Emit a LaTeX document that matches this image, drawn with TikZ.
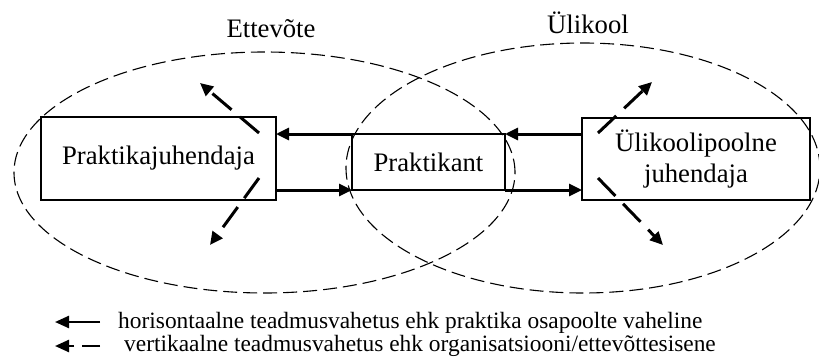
\documentclass[tikz,border=0pt]{standalone}
\usepackage{fontspec}
\setmainfont{Liberation Serif}
\usetikzlibrary{arrows.meta,shapes.geometric,calc}
\begin{document}
\begin{tikzpicture}[x=1pt,y=-1pt,
  region/.style={draw,dash pattern=on 14pt off 6pt,line width=1.1pt,ellipse,inner sep=0pt,outer sep=0pt},
  box/.style={draw,line width=1.2pt,inner sep=0pt,outer sep=0pt,font=\fontsize{26.7}{31}\selectfont},
  flow/.style={line width=3pt,-{Triangle[length=13pt,width=12pt]}},
  vflow/.style={flow,dash pattern=on 25pt off 11pt},
  keyflow/.style={line width=2.4pt,-{Triangle[length=14pt,width=12pt]}},
  caption/.style={font=\fontsize{26.7}{31}\selectfont,inner sep=0pt},
  legend/.style={font=\fontsize{23.4}{26}\selectfont,anchor=base west,inner sep=0pt}]
\useasboundingbox (0,0) rectangle (819,359);

% the two organisations
\node[region,minimum width=501pt,minimum height=241pt] (ent) at (264.5,172.5) {};
\node[region,minimum width=474pt,minimum height=250pt] (uni) at (583,168) {};
\node[caption] (entlbl) at (271,29) {Ettevõte};
\node[caption] (unilbl) at (588,23) {Ülikool};

% the three parties
\node[box,minimum width=235pt,minimum height=83pt] (pj) at (158.5,158.5) {Praktikajuhendaja};
\node[box,minimum width=153pt,minimum height=56pt] (pk) at (428.5,162) {Praktikant};
\node[box,minimum width=228pt,minimum height=82pt,align=center] (ul) at (696,159) {Ülikoolipoolne\\juhendaja};

% horizontal exchange
\draw[flow] (pk.north west) -- (pk.north west -| pj.east);
\draw[flow] (pk.south west -| pj.east) -- (pk.south west);
\draw[flow] (pk.north east -| ul.west) -- (pk.north east);
\draw[flow] (pk.south east) -- (pk.south east -| ul.west);

% vertical exchange inside each organisation
\coordinate (pjup) at ($(pj.north east)+(-17,16)$);
\coordinate (pjdn) at ($(pj.south east)+(-17,-22)$);
\coordinate (ulup) at ($(ul.north west)+(16,15)$);
\coordinate (uldn) at ($(ul.south west)+(16,-22)$);
\coordinate (pjupend) at (200,83);
\coordinate (pjdnend) at (210,245);
\coordinate (ulupend) at (652,82);
\coordinate (uldnend) at (663,245);
\draw[vflow] (pjup) -- (pjupend);
\draw[vflow] (pjdn) -- (pjdnend);
\draw[vflow] (ulup) -- (ulupend);
\draw[vflow] (uldn) -- (uldnend);

% legend
\coordinate (k1a) at (100,322);
\coordinate (k1b) at (55,322);
\coordinate (k2a) at (100,346);
\coordinate (k2b) at (55,346);
\draw[keyflow] (k1a) -- (k1b);
\draw[keyflow,dash pattern=on 18pt off 8pt] (k2a) -- (k2b);
\node[legend] (k1txt) at (118,328) {horisontaalne teadmusvahetus ehk praktika osapoolte vaheline};
\node[legend] (k2txt) at (124,351) {vertikaalne teadmusvahetus ehk organisatsiooni/ettevõttesisene};
\end{tikzpicture}
\end{document}
